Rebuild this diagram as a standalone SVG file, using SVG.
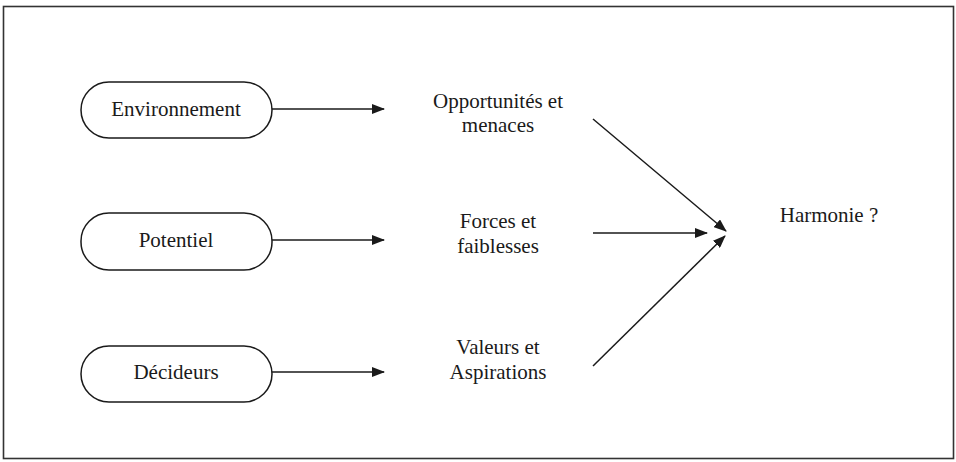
<svg xmlns="http://www.w3.org/2000/svg" width="956" height="462" viewBox="0 0 956 462">
<defs>
<marker id="ah" markerWidth="13" markerHeight="10" refX="12" refY="5" orient="auto" markerUnits="userSpaceOnUse">
<path d="M0,0 L13,5 L0,10 Z" fill="#1a1a1a"/>
</marker>
</defs>
<style>
text{font-family:"Liberation Serif","Times New Roman",serif;font-size:21px;fill:#1a1a1a;text-anchor:middle}
.box{fill:#fff;stroke:#1a1a1a;stroke-width:1.5}
.con{stroke:#1a1a1a;stroke-width:1.5;fill:none;marker-end:url(#ah)}
</style>
<rect x="0" y="0" width="956" height="462" fill="#fff"/>
<rect id="frame" x="3.5" y="6.5" width="950" height="452" fill="none" stroke="#333" stroke-width="1.6"/>
<g id="n-environnement">
<rect class="box" x="81" y="82" width="191" height="56" rx="28"/>
<text x="176" y="116">Environnement</text>
</g>
<g id="n-potentiel">
<rect class="box" x="81" y="213" width="191" height="57" rx="28"/>
<text x="176" y="247">Potentiel</text>
</g>
<g id="n-decideurs">
<rect class="box" x="81" y="346" width="191" height="56" rx="28"/>
<text x="176" y="379">Décideurs</text>
</g>
<g id="n-opportunites">
<text x="498" y="108">Opportunités et</text>
<text x="498" y="132">menaces</text>
</g>
<g id="n-forces">
<text x="498" y="228">Forces et</text>
<text x="498" y="253">faiblesses</text>
</g>
<g id="n-valeurs">
<text x="498" y="354">Valeurs et</text>
<text x="498" y="379">Aspirations</text>
</g>
<g id="n-harmonie">
<text x="829" y="222">Harmonie ?</text>
</g>
<g id="connectors">
<line class="con" x1="272" y1="109" x2="384" y2="109"/>
<line class="con" x1="272" y1="240" x2="384" y2="240"/>
<line class="con" x1="272" y1="372" x2="384" y2="372"/>
<line class="con" x1="593" y1="119" x2="726" y2="231"/>
<line class="con" x1="593" y1="233" x2="707" y2="233"/>
<line class="con" x1="593" y1="366" x2="725" y2="236"/>
</g>
</svg>
